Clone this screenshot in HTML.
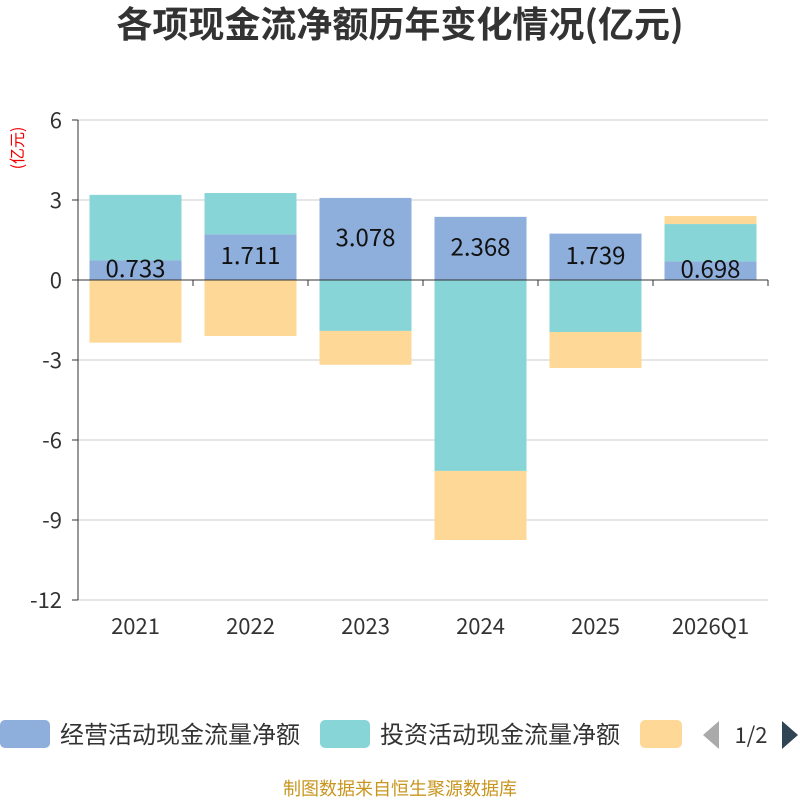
<!DOCTYPE html>
<html><head><meta charset="utf-8"><style>
body{margin:0;background:#fff;font-family:"Noto Sans CJK SC","Liberation Sans",sans-serif;}
svg text{font-family:"Noto Sans CJK SC","Liberation Sans",sans-serif;}
</style></head><body>
<svg id="c" width="800" height="800">
<text x="400" y="37" text-anchor="middle" font-size="36" font-weight="bold" fill="#333">各项现金流净额历年变化情况(亿元)</text>
<text x="0" y="0" font-size="16" fill="#e00" transform="translate(23 148) rotate(-90)" text-anchor="middle">(亿元)</text>
<g id="grid"></g><g id="bars"></g><g id="axes"></g>
<g>
<rect x="0" y="720" width="50" height="28" rx="5" fill="#8eaedb"/>
<text x="60" y="743" font-size="24" fill="#333">经营活动现金流量净额</text>
<rect x="320" y="720" width="50" height="28" rx="5" fill="#88d5d8"/>
<text x="380" y="743" font-size="24" fill="#333">投资活动现金流量净额</text>
<rect x="640" y="720" width="42" height="28" rx="5" fill="#fed897"/>
<polygon points="719,721 719,749 703,735" fill="#aaa"/>
<text x="751" y="743" font-size="22" fill="#333" text-anchor="middle">1/2</text>
<polygon points="782,721 782,749 798,735" fill="#2f4554"/>
</g>
<text x="400" y="795" font-size="18" fill="#c8961e" text-anchor="middle">制图数据来自恒生聚源数据库</text>
</svg>
<script>
const categories=["2021","2022","2023","2024","2025","2026Q1"];
const operating=[0.733,1.711,3.078,2.368,1.739,0.698];
const investing=[2.46,1.55,-1.91,-7.16,-1.95,1.40];
const financing=[-2.35,-2.10,-1.27,-2.59,-1.35,0.30];
const yTicks=[6,3,0,-3,-6,-9,-12];
const NS="http://www.w3.org/2000/svg";
const x0=78,x1=768,yTop=120,yBot=600,yMax=6,yMin=-12;
const y=v=>yTop+(yMax-v)/(yMax-yMin)*(yBot-yTop);
const band=(x1-x0)/categories.length;
function mk(t,a,p){const e=document.createElementNS(NS,t);for(const k in a)e.setAttribute(k,a[k]);document.getElementById(p).appendChild(e);return e;}
yTicks.forEach(t=>{
 const l=mk('line',{x1:x0,x2:x1,y1:y(t),y2:y(t),stroke:'#ccc'},'grid');
 
 
 const tx=mk('text',{x:62,y:y(t)+8,'font-size':22,fill:'#333','text-anchor':'end'},'axes');tx.textContent=t;
 
 
 mk('line',{x1:x0-6,x2:x0,y1:y(t),y2:y(t),stroke:'#333'},'axes');
});
mk('line',{x1:x0,x2:x0,y1:yTop,y2:yBot,stroke:'#333'},'axes');
mk('line',{x1:x0,x2:x1,y1:y(0),y2:y(0),stroke:'#333'},'axes');
const bw=92;
categories.forEach((c,i)=>{
 const cx=x0+band*(i+0.5),bx=cx-bw/2;
 mk('line',{x1:x0+band*i,x2:x0+band*i,y1:y(0),y2:y(0)+6,stroke:'#333'},'axes');
 if(i==categories.length-1)mk('line',{x1:x1,x2:x1,y1:y(0),y2:y(0)+6,stroke:'#333'},'axes');
 const tl=mk('text',{x:cx,y:634,'font-size':22,fill:'#333','text-anchor':'middle'},'axes');tl.textContent=c;
 
 
 let pos=0,neg=0;
 const seg=(v,col,name)=>{let a,b;if(v>=0){a=pos;b=pos+v;pos=b;}else{a=neg;b=neg+v;neg=b;}
  const r=mk('rect',{x:bx,width:bw,y:y(Math.max(a,b)),height:Math.abs(y(a)-y(b)),fill:col},'bars');
  
  
  return [a,b];};
 const o=seg(operating[i],'#8eaedb','operating');
 seg(investing[i],'#88d5d8','investing');
 seg(financing[i],'#fed897','financing');
 const lv=mk('text',{x:cx,y:(y(o[0])+y(o[1]))/2+7,'font-size':24,fill:'#111','text-anchor':'middle'},'bars');
 lv.textContent=operating[i].toFixed(3);
 
 
});
</script>
</body></html>
